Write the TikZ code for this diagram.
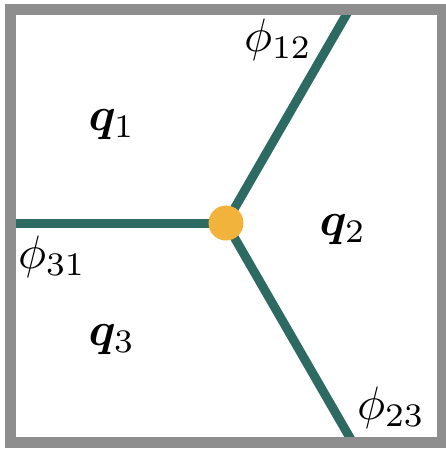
\documentclass[tikz,border=0pt]{standalone}
\usepackage{bm}
\definecolor{teal1}{HTML}{2D6A62}
\definecolor{dotc}{HTML}{F2B33D}
\definecolor{frame1}{HTML}{8E8E8E}
\begin{document}
\begin{tikzpicture}[x=1pt,y=-1pt,
  wall/.style={draw=teal1,line width=9pt},
  lab/.style={inner sep=0pt,scale=4.7},
  junction/.style={circle,fill=dotc,minimum size=35pt,inner sep=0pt}]
\useasboundingbox (0,0) rectangle (445,450);
\coordinate (c) at (226,223);
\coordinate (eL) at (10.5,223);
\coordinate (eU) at (349.3,9.5);
\coordinate (eD) at (352.7,442.5);
\draw[wall] (eL) -- (c);
\draw[wall] (eU) -- (c);
\draw[wall] (eD) -- (c);
\node[junction] (dot) at (c) {};
\draw[draw=frame1,line width=11pt] (10.5,9.5) rectangle (442,442.5);
\node[lab] (p12) at (278,40) {$\phi_{12}$};
\node[lab] (p31) at (52,257) {$\phi_{31}$};
\node[lab] (p23) at (391,408) {$\phi_{23}$};
\node[lab] (q1) at (112,125) {$\bm{q}_1$};
\node[lab] (q2) at (343,230) {$\bm{q}_2$};
\node[lab] (q3) at (112,340) {$\bm{q}_3$};
\end{tikzpicture}
\end{document}
